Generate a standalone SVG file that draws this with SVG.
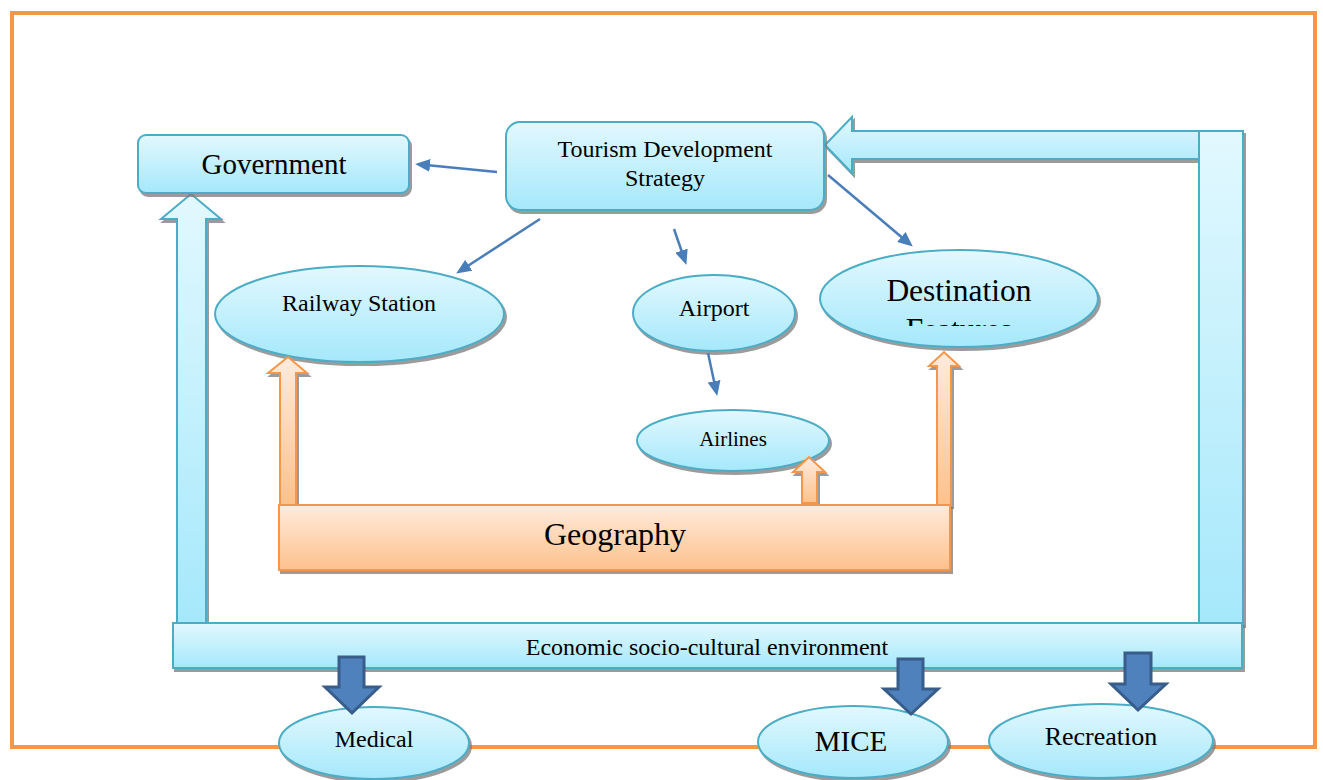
<svg xmlns="http://www.w3.org/2000/svg" width="1323" height="780" viewBox="0 0 1323 780">
<defs>
<linearGradient id="gb" x1="0" y1="0" x2="0" y2="1"><stop offset="0" stop-color="#E2F8FE"/><stop offset="1" stop-color="#A5E8FB"/></linearGradient>
<linearGradient id="go" x1="0" y1="0" x2="0" y2="1"><stop offset="0" stop-color="#FFEBDD"/><stop offset="1" stop-color="#FDC18C"/></linearGradient>
<filter id="sh" x="-10%" y="-10%" width="130%" height="140%"><feDropShadow dx="2" dy="3" stdDeviation="0.6" flood-color="#7a7a7a" flood-opacity="0.75"/></filter>
<marker id="ah" markerUnits="userSpaceOnUse" markerWidth="15" markerHeight="13" refX="4" refY="6.5" orient="auto"><path d="M0,0 L15,6.5 L0,13 z" fill="#4A7EBB"/></marker>
<clipPath id="clipDF"><rect x="820" y="250" width="280" height="76"/></clipPath>
<style>
.b{fill:url(#gb);stroke:#4BACC6;stroke-width:2;filter:url(#sh)}
.o{fill:url(#go);stroke:#F79646;stroke-width:2;filter:url(#sh)}
.d{fill:#4F81BD;stroke:#385D8A;stroke-width:3;stroke-linejoin:miter}
.t{font-family:"Liberation Serif","Times New Roman",serif;fill:#000;text-anchor:middle}
.c{stroke:#4A7EBB;stroke-width:2.5;fill:none;marker-end:url(#ah)}
</style>
</defs>
<rect x="0" y="0" width="1323" height="780" fill="#fff"/>
<rect id="frame" x="12" y="13" width="1303" height="734" fill="none" stroke="#F79646" stroke-width="4"/>

<g id="feedback-arrows">
<polygon class="b" points="1200,131 852,131 852,117 825,145 852,173 852,159 1200,159"/>
<rect class="b" x="1199" y="131" width="44" height="493"/>
<polygon class="b" points="177,623 177,219 161,219 191,194 221,219 206,219 206,623"/>
</g>

<g id="government">
<rect class="b" x="138" y="135" width="271" height="58" rx="8"/>
<text class="t" x="274" y="174" font-size="29">Government</text>
</g>

<g id="tourism">
<rect class="b" x="506" y="122" width="318" height="88" rx="14"/>
<text class="t" x="665" y="157" font-size="24">Tourism Development</text>
<text class="t" x="665" y="186" font-size="24">Strategy</text>
</g>

<g id="railway">
<ellipse class="b" cx="359.5" cy="314" rx="144.5" ry="48"/>
<text class="t" x="359" y="311" font-size="24">Railway Station</text>
</g>

<g id="airport">
<ellipse class="b" cx="714" cy="313" rx="81" ry="38"/>
<text class="t" x="714" y="316" font-size="24">Airport</text>
</g>

<g id="airlines">
<ellipse class="b" cx="733" cy="440.5" rx="96" ry="30.5"/>
<text class="t" x="733" y="446" font-size="21">Airlines</text>
</g>

<g id="destination">
<ellipse class="b" cx="959" cy="298.5" rx="139" ry="48.5"/>
<text class="t" x="959" y="301" font-size="31.5">Destination</text>
<text class="t" x="959" y="340" font-size="31.5" clip-path="url(#clipDF)">Features</text>
</g>

<g id="geography">
<polygon class="o" points="280,505 280,373 268,373 288,357 307,373 296,373 296,505"/>
<polygon class="o" points="802,503 802,472 793,472 809,457 825,472 817,472 817,503"/>
<polygon class="o" points="937,505 937,366 929,366 944,352 959,366 951,366 951,505"/>
<rect class="o" x="279" y="505" width="671" height="65"/>
<text class="t" x="615" y="545" font-size="32">Geography</text>
</g>

<g id="economic">
<rect class="b" x="173" y="623" width="1069" height="45"/>
<text class="t" x="707" y="655" font-size="24">Economic socio-cultural environment</text>
</g>

<g id="medical">
<ellipse class="b" cx="374" cy="743" rx="95" ry="36"/>
<text class="t" x="374" y="747" font-size="24">Medical</text>
</g>

<g id="mice">
<ellipse class="b" cx="853" cy="742" rx="95" ry="36"/>
<text class="t" x="851" y="751" font-size="29">MICE</text>
</g>

<g id="recreation">
<ellipse class="b" cx="1101" cy="741" rx="112" ry="37"/>
<text class="t" x="1101" y="745" font-size="26">Recreation</text>
</g>

<g id="outcome-arrows">
<polygon class="d" points="339,657 364,657 364,687 379,687 352,713 325,687 339,687"/>
<polygon class="d" points="898,659 923,659 923,689 938,689 911,714 884,689 898,689"/>
<polygon class="d" points="1125,653 1151,653 1151,684 1166,684 1138,710 1111,684 1125,684"/>
</g>

<g id="connectors">
<line class="c" x1="497" y1="172" x2="426" y2="165"/>
<line class="c" x1="540" y1="219" x2="465.4" y2="267.5"/>
<line class="c" x1="674" y1="229" x2="682.8" y2="254.5"/>
<line class="c" x1="828" y1="175" x2="904.4" y2="239.5"/>
<line class="c" x1="708" y1="353" x2="714.9" y2="385.2"/>
</g>
</svg>
